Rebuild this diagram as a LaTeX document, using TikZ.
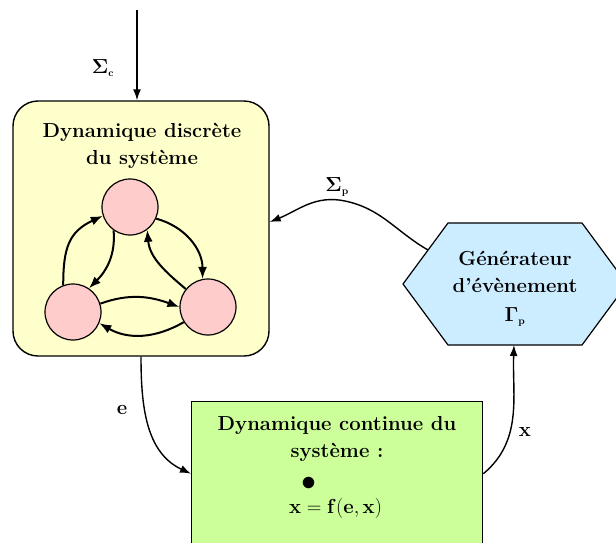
\RequirePackage{fix-cm}
\documentclass[tikz,border=0pt]{standalone}
\usetikzlibrary{arrows.meta}
\definecolor{yel}{HTML}{FFFFCC}
\definecolor{pinkc}{HTML}{FFCCCC}
\definecolor{blu}{HTML}{CCECFF}
\definecolor{grn}{HTML}{CCFF99}
\begin{document}
\begin{tikzpicture}[x=1pt,y=1pt,
  lbl/.style={font=\fontsize{20.3}{27}\selectfont\bfseries, align=center, inner sep=0pt},
  arr/.style={line width=1.4pt, -{Latex[length=11pt,width=8pt]}},
  garr/.style={line width=2pt, -{Latex[length=12pt,width=9pt]}},
  state/.style={circle, draw, line width=1.2pt, fill=pinkc, minimum size=56pt, inner sep=0pt},
  box/.style={draw, line width=1.4pt}]
\useasboundingbox (0,0) rectangle (616,-542);
\clip (0,0) rectangle (616,-542);

% discrete dynamics box
\node[box, fill=yel, rounded corners=25pt, minimum width=256pt, minimum height=255pt] (disc) at (141,-228.5) {};
\node[lbl] (dtitle) at (142,-146) {Dynamique discrète\\du système};

\node[state] (A) at (130,-207) {};
\node[state] (B) at (73,-312) {};
\node[state] (C) at (208,-307) {};

\draw[garr] (B.110) to[out=90,in=205,looseness=1.2] (A.198);
\draw[garr] (A.235) to[out=-85,in=45] (B.56);
\draw[garr] (A.-24) to[out=-15,in=90] (C.101);
\draw[garr] (C.141) to[out=140,in=-85] (A.-53);
\draw[garr] (B.17) to[out=20,in=160] (C.180);
\draw[garr] (C.212) to[out=210,in=-30] (B.-23);

% input arrow
\coordinate (inp) at (137,-10);
\draw[arr] (inp) -- (inp |- disc.north);
\node[lbl] (sc) at (103,-68) {$\mathbf{\Sigma}_{\scriptscriptstyle\mathbf{c}}$};

% hexagon
\coordinate (h1) at (403,-284);
\coordinate (h2) at (448,-223);
\coordinate (h3) at (582,-223);
\coordinate (h4) at (627,-284);
\coordinate (h5) at (582,-345);
\coordinate (h6) at (448,-345);
\draw[fill=blu, line width=1.2pt] (h1) -- (h2) -- (h3) -- (h4) -- (h5) -- (h6) -- cycle;
\node[lbl] (gen) at (515,-289) {Générateur\\d’évènement\\[2pt]$\mathbf{\Gamma}_{\scriptscriptstyle\mathbf{p}}$};

\coordinate (hs) at (428,-250);
\coordinate (peak) at (345,-201);
\coordinate (hb) at (514,-345);
\draw[arr] (hs) to[out=150,in=-12] (peak) to[out=168,in=22] ([yshift=6.5pt]disc.east);
\node[lbl] (sp) at (337,-187) {$\mathbf{\Sigma}_{\scriptscriptstyle\mathbf{p}}$};

% continuous dynamics box
\node[box, fill=grn, minimum width=291pt, minimum height=170pt, anchor=north west] (cont) at (191,-401) {};
\node[lbl] (ct) at (337,-439) {Dynamique continue du\\système :};
\node[lbl] (dot) at (309,-484) {\fontsize{30}{30}\selectfont$\bullet$};
\node[lbl, anchor=west] (eq) at (289,-508) {$\mathbf{x = f(e, x)}$};

\draw[arr] (disc.south) to[out=-90,in=155] ([yshift=13pt]cont.west);
\node[lbl] (el) at (122,-410) {e};
\draw[arr] ([yshift=13pt]cont.east) to[out=40,in=-92] (hb);
\node[lbl] (xl) at (525,-432) {x};
\end{tikzpicture}
\end{document}
